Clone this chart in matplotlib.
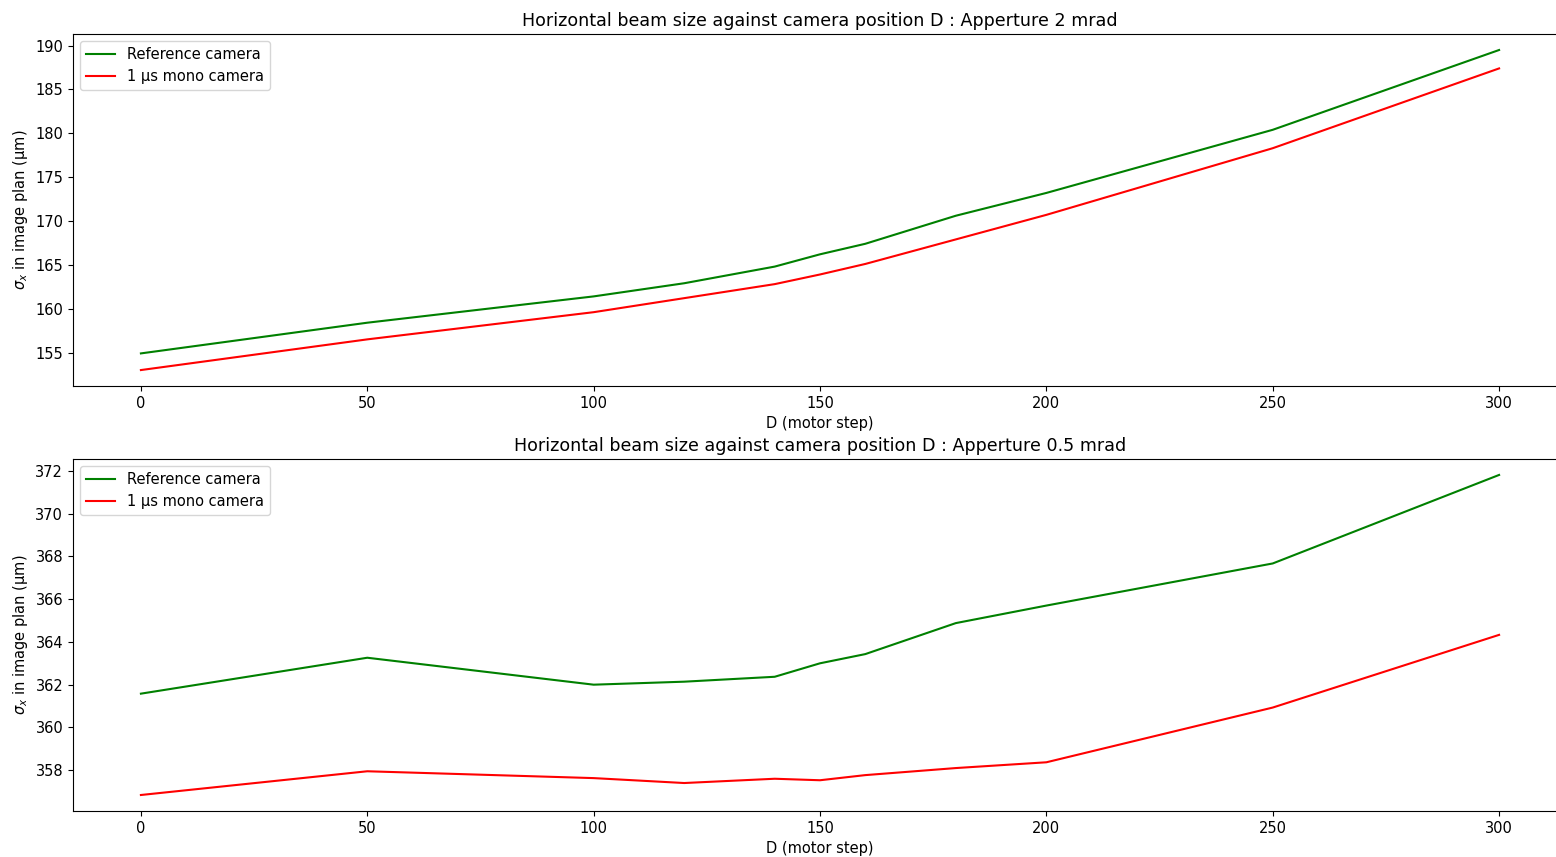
import matplotlib
matplotlib.use("Agg")
import matplotlib.pyplot as plt

plt.rcParams['font.size'] = 10.5

# Camera positions D (motor step)
D = [0, 50, 100, 120, 140, 150, 160, 180, 200, 250, 300]

# Aperture 2 mrad
ref_2mrad = [154.9, 158.4, 161.4, 162.9, 164.8, 166.2, 167.4, 170.6, 173.2, 180.4, 189.5]
mono_2mrad = [153.0, 156.5, 159.6, 161.2, 162.8, 163.9, 165.1, 167.9, 170.7, 178.3, 187.4]

# Aperture 0.5 mrad
ref_05mrad = [361.58, 363.26, 362.0, 362.14, 362.37, 363.0, 363.43, 364.88, 365.7, 367.67, 371.81]
mono_05mrad = [356.84, 357.95, 357.63, 357.4, 357.6, 357.53, 357.77, 358.1, 358.37, 360.93, 364.33]

fig, (ax1, ax2) = plt.subplots(2, 1, figsize=(15.56, 8.57), dpi=100)
# the original was cropped on the right, so the axes run slightly past the edge
fig.subplots_adjust(left=73 / 1556, right=1567 / 1556,
                    top=1 - 34 / 857, bottom=1 - 811 / 857, hspace=0.207)

# Top panel
ax1.plot(D, ref_2mrad, color='green', label='Reference camera')
ax1.plot(D, mono_2mrad, color='red', label='1 µs mono camera')
ax1.set_title('Horizontal beam size against camera position D : Apperture 2 mrad', fontsize=12.6)
ax1.set_xlabel('D (motor step)')
ax1.set_ylabel(r'$\sigma_x$ in image plan (µm)')
ax1.legend(loc='upper left')

# Bottom panel
ax2.plot(D, ref_05mrad, color='green', label='Reference camera')
ax2.plot(D, mono_05mrad, color='red', label='1 µs mono camera')
ax2.set_title('Horizontal beam size against camera position D : Apperture 0.5 mrad', fontsize=12.6)
ax2.set_xlabel('D (motor step)')
ax2.set_ylabel(r'$\sigma_x$ in image plan (µm)')
ax2.legend(loc='upper left')

plt.savefig('out.png')
